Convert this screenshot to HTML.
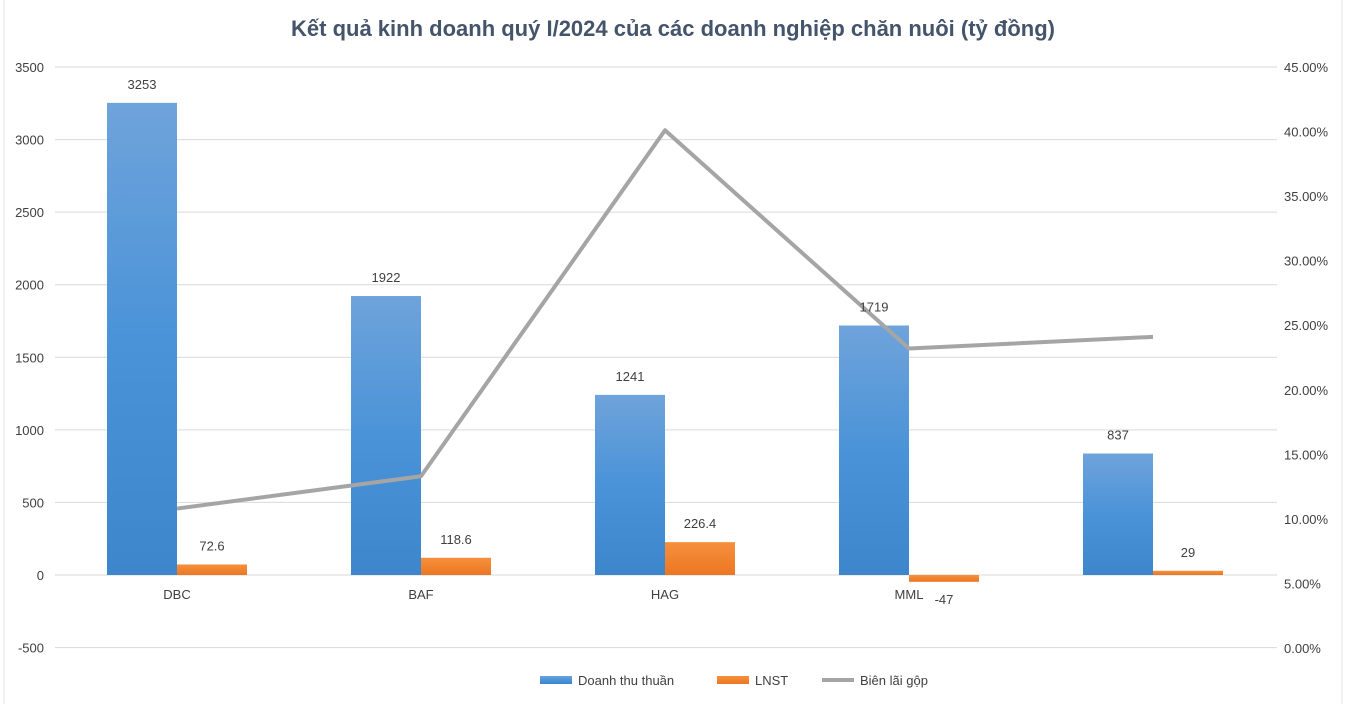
<!DOCTYPE html>
<html><head><meta charset="utf-8">
<style>
html,body{margin:0;padding:0;background:#fff;}
svg{display:block;font-family:"Liberation Sans","DejaVu Sans",sans-serif;}
</style></head>
<body>
<svg id="chart" width="1346" height="704" viewBox="0 0 1346 704" xmlns="http://www.w3.org/2000/svg">
<rect width="1346" height="704" fill="#fff"/>
<line x1="4" y1="0" x2="4" y2="704" stroke="#e3e6ea" stroke-width="1"/>
<line x1="1342" y1="0" x2="1342" y2="704" stroke="#e3e6ea" stroke-width="1"/>
<text x="673" y="36" text-anchor="middle" font-size="22" font-weight="bold" fill="#44546a">Kết quả kinh doanh quý I/2024 của các doanh nghiệp chăn nuôi (tỷ đồng)</text>
<defs>
<linearGradient id="gb" x1="0" y1="0" x2="0" y2="1"><stop offset="0" stop-color="#6fa3db"/><stop offset="0.5" stop-color="#4a93d8"/><stop offset="1" stop-color="#3e86cb"/></linearGradient>
<linearGradient id="go" x1="0" y1="0" x2="0" y2="1"><stop offset="0" stop-color="#f6903d"/><stop offset="1" stop-color="#ec7623"/></linearGradient>
</defs>
<g id="grid"></g><g id="bars"></g><g id="line"></g><g id="labels"></g>
<g>
<rect x="540" y="676" width="32" height="8" fill="url(#gb)"/>
<text x="578" y="685" font-size="13" fill="#404040">Doanh thu thuần</text>
<rect x="717" y="676" width="32" height="8" fill="url(#go)"/>
<text x="755" y="685" font-size="13" fill="#404040">LNST</text>
<line x1="822" y1="680" x2="854" y2="680" stroke="#a5a5a5" stroke-width="4"/>
<text x="860" y="685" font-size="13" fill="#404040">Biên lãi gộp</text>
</g>
</svg>
<script>
const categories=["DBC","BAF","HAG","MML",""];
const revenue=[3253,1922,1241,1719,837];
const profit=[72.6,118.6,226.4,-47,29];
const margin=[10.8,13.3,40.1,23.2,24.1];
const leftTicks=[-500,0,500,1000,1500,2000,2500,3000,3500];
const rightTicks=[0,5,10,15,20,25,30,35,40,45];
const NS="http://www.w3.org/2000/svg";
const x0=55,x1=1275,cw=(x1-x0)/categories.length,bw=70;
const yL=v=>575-v*(508/3500);
const yR=p=>648-p*(581/45);
const xc=i=>x0+cw*(i+0.5);
function mk(tag,attrs,parent,txt){const e=document.createElementNS(NS,tag);for(const k in attrs)e.setAttribute(k,attrs[k]);if(txt!==undefined)e.textContent=txt;document.getElementById(parent).appendChild(e);return e;}
leftTicks.forEach(t=>{
 const g=mk('line',{x1:x0,x2:x1+2,y1:yL(t),y2:yL(t),stroke:'#d9d9d9','stroke-width':1},'grid');
 
 
 const l=mk('text',{x:44,y:yL(t)+5,'text-anchor':'end','font-size':13,fill:'#404040'},'labels',String(t));
 
 
});
rightTicks.forEach(t=>{
 const l=mk('text',{x:1284,y:yR(t)+5,'font-size':13,fill:'#404040'},'labels',t.toFixed(2)+'%');
 
 
});
categories.forEach((c,i)=>{
 const cx=xc(i);
 const r=revenue[i];
 const b=mk('rect',{x:cx-bw,y:yL(r),width:bw,height:yL(0)-yL(r),fill:'url(#gb)'},'bars');
 
 
 const p=profit[i];
 const top=Math.min(yL(p),yL(0)),h=Math.abs(yL(p)-yL(0));
 const o=mk('rect',{x:cx,y:top,width:bw,height:h,fill:'url(#go)'},'bars');
 
 
 const t1=mk('text',{x:cx-bw/2,y:yL(r)-14,'text-anchor':'middle','font-size':13,fill:'#404040'},'labels',String(r));
 
 
 const ly=p>=0?yL(p)-14:yL(p)+22;
 const t2=mk('text',{x:cx+bw/2,y:ly,'text-anchor':'middle','font-size':13,fill:'#404040'},'labels',String(p));
 
 
 if(c){const cl=mk('text',{x:cx,y:599,'text-anchor':'middle','font-size':13,fill:'#404040'},'labels',c);
 
 }
});
const pts=margin.map((m,i)=>xc(i)+','+yR(m)).join(' ');
const pl=mk('polyline',{points:pts,fill:'none',stroke:'#a5a5a5','stroke-width':4,'stroke-linejoin':'round'},'line');


</script>
</body></html>
